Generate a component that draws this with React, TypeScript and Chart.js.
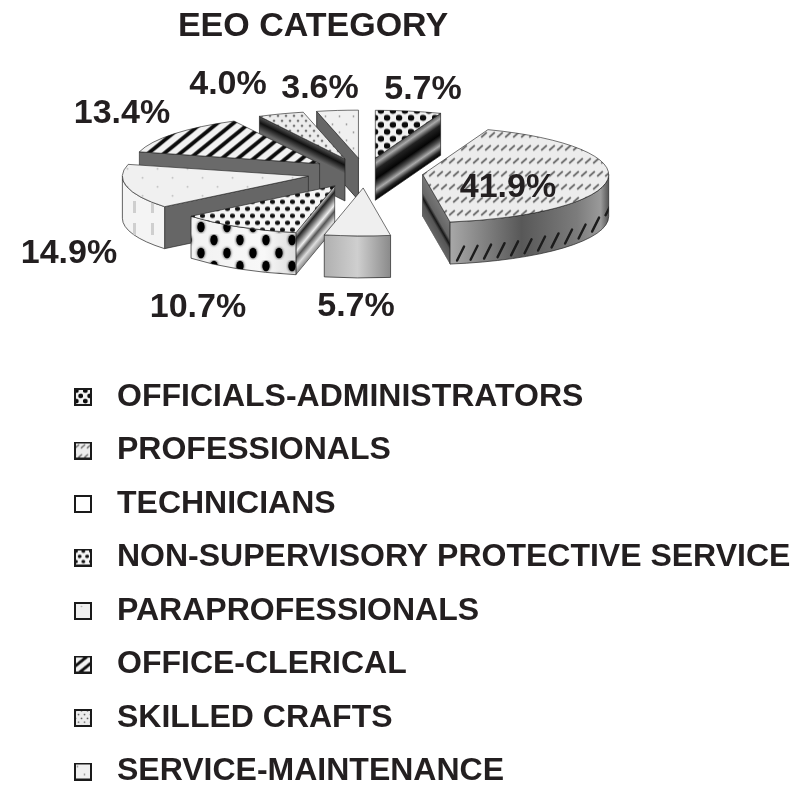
import React, { useEffect, useRef } from "react";
import { Chart, registerables } from "chart.js";

Chart.register(...registerables);

const TITLE = "EEO CATEGORY";
const CATEGORIES = [
  "OFFICIALS-ADMINISTRATORS",
  "PROFESSIONALS",
  "TECHNICIANS",
  "NON-SUPERVISORY PROTECTIVE SERVICE",
  "PARAPROFESSIONALS",
  "OFFICE-CLERICAL",
  "SKILLED CRAFTS",
  "SERVICE-MAINTENANCE",
];
const SHARES = [5.7, 41.9, 5.7, 10.7, 14.9, 13.4, 4.0, 3.6];

// anchors (centre of text) for the percentage labels
const LABEL_X = [423, 508, 356, 198, 69, 122, 228, 320];
const LABEL_Y = [90, 188, 307, 308, 254, 114, 85, 89];

const W = 812, H = 785;
const CX = 365, CY = 173;
const RADIUS = 186, SQUASH = 0.258, DEPTH = 42, EXPLODE = 58;
const FONT = "'Liberation Sans', Arial, sans-serif";
const INK = "#231f20";

type Stops = [number, string][];
// vertical bands on the radial wall
const RADIAL: (Stops | null)[] = [
  [[0, "#555"], [0.12, "#aaa"], [0.28, "#222"], [0.5, "#050505"], [0.65, "#555"], [0.76, "#aaa"], [0.9, "#222"], [1, "#000"]],
  [[0, "#777"], [0.42, "#666"], [0.55, "#161616"], [0.68, "#555"], [1, "#666"]],
  null,
  [[0, "#ddd"], [0.14, "#222"], [0.3, "#888"], [0.45, "#eee"], [0.6, "#555"], [0.8, "#ddd"], [1, "#888"]],
  [[0, "#666"], [1, "#666"]],
  [[0, "#6a6a6a"], [1, "#6a6a6a"]],
  [[0, "#555"], [0.15, "#111"], [0.35, "#666"], [1, "#666"]],
  [[0, "#666"], [1, "#666"]],
];
// horizontal shading on the outer wall
const OUTER: (Stops | null)[] = [
  null,
  [[0, "#a8a8a8"], [0.45, "#585858"], [0.8, "#7c7c7c"], [0.95, "#9a9a9a"], [1, "#555"]],
  [[0, "#b0b0b0"], [0.5, "#cfcfcf"], [1, "#8a8a8a"]],
  [[0, "#f2f2f2"], [0.7, "#f8f8f8"], [1, "#ddd"]],
  [[0, "#f4f4f4"], [1, "#f4f4f4"]],
  null,
  null,
  null,
];

function tile(w: number, h: number, bg: string | null, draw: (c: CanvasRenderingContext2D) => void) {
  const cv = document.createElement("canvas");
  cv.width = w;
  cv.height = h;
  const c = cv.getContext("2d")!;
  if (bg) {
    c.fillStyle = bg;
    c.fillRect(0, 0, w, h);
  }
  draw(c);
  return cv;
}
function dots(c: CanvasRenderingContext2D, pts: number[][], rx: number, ry: number, col: string) {
  c.fillStyle = col;
  pts.forEach(([x, y]) => {
    c.beginPath();
    c.ellipse(x, y, rx, ry, 0, 0, Math.PI * 2);
    c.fill();
  });
}
function staggered(w: number, h: number) {
  return [[w / 4, h / 4], [(3 * w) / 4, (3 * h) / 4]];
}

function makeTiles() {
  return [
    tile(12, 14, "#f2f2f2", (c) => dots(c, [[3, 3.5], [9, 10.5]], 3.3, 3, "#0c0c0c")),
    tile(16, 26, "#ececec", (c) => {
      c.strokeStyle = "#6a6a6a";
      c.lineWidth = 1.7;
      [[4, 6.5], [12, 6.5], [0, 19.5], [8, 19.5], [16, 19.5]].forEach(([x, y]) => {
        c.beginPath();
        c.moveTo(x - 2.8, y + 2.5);
        c.lineTo(x + 2.8, y - 2.5);
        c.stroke();
      });
    }),
    tile(8, 8, "#efefef", () => {}),
    tile(10, 14, "#f5f5f5", (c) => dots(c, staggered(10, 14), 2.6, 2.2, "#111")),
    tile(30, 18, "#f0f0f0", (c) => dots(c, staggered(30, 18), 1, 0.8, "#b5b5b5")),
    tile(16, 13, "#f2f2f2", (c) => {
      c.fillStyle = "#0c0c0c";
      for (const s of [-16, 0, 16]) {
        c.beginPath();
        c.moveTo(s, 13);
        c.lineTo(s + 16, 0);
        c.lineTo(s + 22, 0);
        c.lineTo(s + 6, 13);
        c.closePath();
        c.fill();
      }
    }),
    tile(8, 10, "#ececec", (c) => dots(c, staggered(8, 10), 1.3, 1.1, "#555")),
    tile(14, 16, "#f0f0f0", (c) => dots(c, staggered(14, 16), 0.9, 0.8, "#777")),
  ];
}

function makeIcons(tiles: HTMLCanvasElement[]) {
  return tiles.map((t, i) =>
    tile(18, 18, "#fff", (c) => {
      if (i !== 2) {
        c.save();
        c.beginPath();
        c.rect(2, 2, 14, 14);
        c.clip();
        const scale = i === 4 || i === 7 ? 1 : 0.75;
        c.scale(scale, scale);
        c.fillStyle = c.createPattern(t, "repeat")!;
        c.fillRect(0, 0, 30, 30);
        c.restore();
      }
      c.strokeStyle = "#1a1a1a";
      c.lineWidth = 2;
      c.strokeRect(1, 1, 16, 16);
    })
  );
}

function linear(ctx: CanvasRenderingContext2D, x0: number, y0: number, x1: number, y1: number, stops: Stops) {
  const g = ctx.createLinearGradient(x0, y0, x1, y1);
  stops.forEach(([o, col]) => g.addColorStop(o, col));
  return g;
}

export default function App() {
  const ref = useRef<HTMLCanvasElement>(null);

  useEffect(() => {
    const canvas = ref.current!;
    const tiles = makeTiles();
    const icons = makeIcons(tiles);
    const pctx = canvas.getContext("2d")!;
    const inverse = new DOMMatrix().scale(1, 1 / SQUASH);
    const fills = tiles.map((t) => {
      const p = pctx.createPattern(t, "repeat")!;
      p.setTransform(inverse);
      return p;
    });

    const blobs = pctx.createPattern(
      tile(26, 26, "rgba(0,0,0,0)", (c) => {
        c.shadowColor = "#000";
        c.shadowBlur = 3;
        dots(c, [[6, 6], [19, 19]], 3.6, 5.2, "#000");
      }),
      "repeat"
    )!;
    const specks = pctx.createPattern(
      tile(18, 22, "rgba(0,0,0,0)", (c) => {
        c.fillStyle = "#cfcfcf";
        c.fillRect(7, 3, 3, 12);
      }),
      "repeat"
    )!;
    const overlays: (CanvasPattern | null)[] = [null, null, null, blobs, specks, null, null, null];

    const drawWalls = (chart: Chart) => {
      const ctx = chart.ctx;
      const arcs: any[] = [...chart.getDatasetMeta(0).data];
      const order = arcs
        .map((a, i) => ({ a, i }))
        .sort((p, q) => p.a.y - q.a.y);
      order.forEach(({ a, i }) => {
        const ox = a.x;
        const oy = CY + (a.y - CY) * SQUASH;
        const ry = RADIUS * SQUASH;
        const start = a.startAngle, end = a.endAngle;
        // radial wall
        const edge = Math.cos(start) < 0 ? start : Math.cos(end) > 0 ? end : null;
        const bands = RADIAL[i];
        if (edge !== null && bands) {
          const ex = RADIUS * Math.cos(edge), ey = ry * Math.sin(edge);
          ctx.save();
          ctx.transform(1, ey / ex, 0, 1, ox, oy);
          ctx.fillStyle = linear(ctx, 0, 0, 0, DEPTH, bands);
          ctx.strokeStyle = "#222";
          ctx.lineWidth = 0.6;
          ctx.beginPath();
          ctx.rect(0, 0, ex, DEPTH);
          ctx.fill();
          ctx.stroke();
          ctx.restore();
        }
        // outer wall
        const from = Math.max(start, 0), to = Math.min(end, Math.PI);
        const shade = OUTER[i];
        if (to > from && shade) {
          const x0 = ox + RADIUS * Math.cos(to), x1 = ox + RADIUS * Math.cos(from);
          ctx.save();
          ctx.beginPath();
          ctx.ellipse(ox, oy, RADIUS, ry, 0, from, to);
          ctx.ellipse(ox, oy + DEPTH, RADIUS, ry, 0, to, from, true);
          ctx.closePath();
          ctx.fillStyle = linear(ctx, x0, 0, x1, 0, shade);
          ctx.fill();
          ctx.strokeStyle = "#222";
          ctx.lineWidth = 0.7;
          ctx.stroke();
          ctx.clip();
          const over = overlays[i];
          if (over) {
            ctx.fillStyle = over;
            ctx.fill();
          }
          // slanted hatch along the foot of the largest slice's wall
          if (i === 1) {
            ctx.strokeStyle = "#1c1c1c";
            ctx.lineWidth = 2.4;
            ctx.lineCap = "round";
            for (let x = x0 + 10; x < x1; x += 13.5) {
              const t = Math.sqrt(Math.max(0, 1 - ((x - ox) / RADIUS) ** 2));
              const yb = oy + DEPTH + ry * t;
              ctx.beginPath();
              ctx.moveTo(x - 3, yb - 3);
              ctx.lineTo(x + 4, yb - 17);
              ctx.stroke();
            }
          }
          ctx.restore();
        }
      });
    };

    const piePlugin = {
      id: "tiltedPie",
      afterLayout(chart: any) {
        chart.chartArea = { left: 0, top: 0, right: CX * 2, bottom: CY * 2, width: CX * 2, height: CY * 2 };
        const lg = chart.legend;
        lg.left = 43.5;
        lg.top = 359.5;
        lg.right = W;
        lg.bottom = H + 40;
        const tb = chart.titleBlock;
        tb.left = 0;
        tb.right = 626;
        tb.top = 6;
      },
      afterDatasetsUpdate(chart: any) {
        chart.getDatasetMeta(0).data.forEach((a: any) => {
          const mid = (a.startAngle + a.endAngle) / 2;
          a.x += Math.cos(mid) * EXPLODE;
          a.y += Math.sin(mid) * EXPLODE;
        });
      },
      beforeDatasetsDraw(chart: any) {
        drawWalls(chart);
        const ctx = chart.ctx;
        ctx.save();
        ctx.translate(0, CY);
        ctx.scale(1, SQUASH);
        ctx.translate(0, -CY);
      },
      afterDatasetsDraw(chart: any) {
        const ctx = chart.ctx;
        ctx.restore();
        ctx.save();
        ctx.font = `bold 34px ${FONT}`;
        ctx.fillStyle = INK;
        ctx.textAlign = "center";
        ctx.textBaseline = "middle";
        SHARES.forEach((v, i) => ctx.fillText(`${v.toFixed(1)}%`, LABEL_X[i], LABEL_Y[i]));
        ctx.restore();
      },
    };

    const chart = new Chart(canvas, {
      type: "pie",
      data: {
        labels: CATEGORIES,
        datasets: [
          {
            data: SHARES,
            backgroundColor: fills as any,
            borderColor: "#222",
            borderWidth: 1,
            radius: RADIUS,
            clip: false,
          } as any,
        ],
      },
      options: {
        responsive: false,
        animation: false,
        events: [],
        plugins: {
          tooltip: { enabled: false },
          title: {
            display: true,
            text: TITLE,
            color: INK,
            font: { family: FONT, size: 34, weight: "bold" },
            padding: 0,
          },
          legend: {
            position: "left",
            align: "start",
            labels: {
              usePointStyle: true,
              pointStyleWidth: 36,
              padding: 21.5,
              color: INK,
              font: { family: FONT, size: 32, weight: "bold" },
              generateLabels: () =>
                CATEGORIES.map((text, i) => ({
                  text,
                  index: i,
                  fontColor: INK,
                  pointStyle: icons[i],
                  hidden: false,
                })) as any,
            },
          },
        },
      } as any,
      plugins: [piePlugin as any],
    });
    return () => chart.destroy();
  }, []);

  return (
    <div style={{ position: "absolute", left: 0, top: 0, width: W, height: H, background: "#fff" }}>
      <canvas ref={ref} width={W} height={H} style={{ display: "block" }} />
    </div>
  );
}
